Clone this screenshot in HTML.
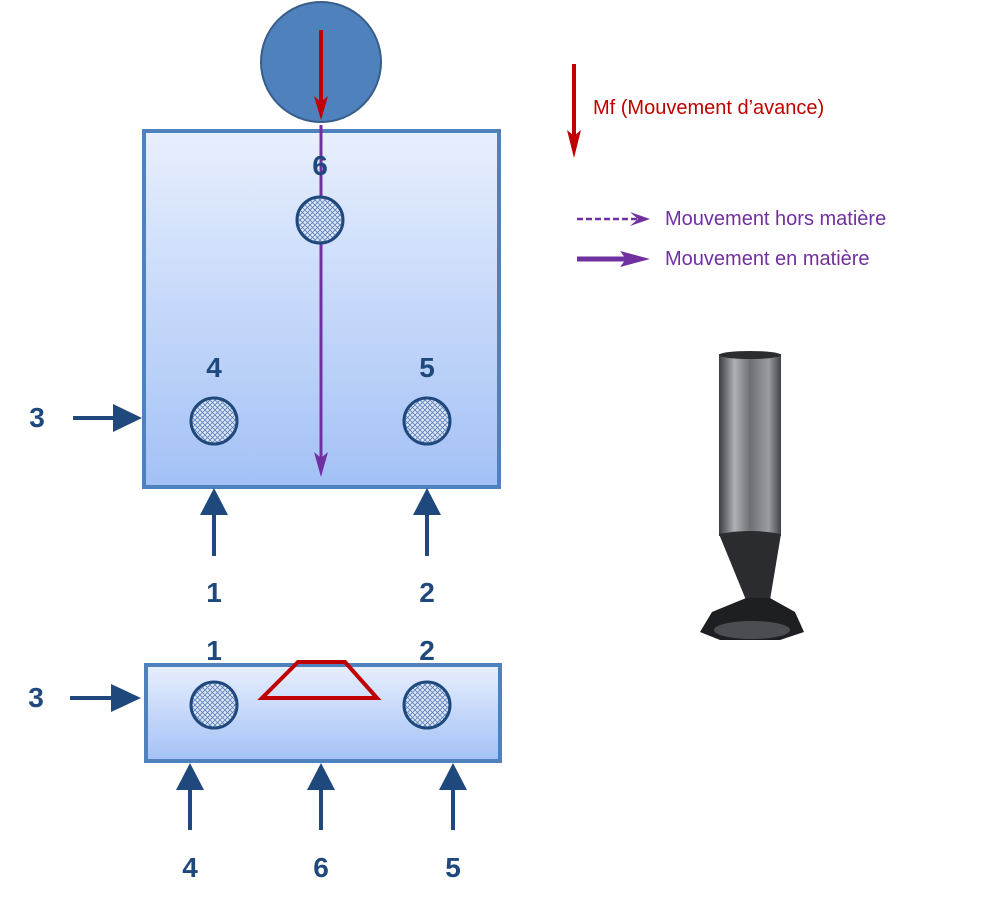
<!DOCTYPE html>
<html><head><meta charset="utf-8"><style>body{margin:0;background:#fff}svg{display:block;font-family:"Liberation Sans",sans-serif}</style></head>
<body>
<svg width="998" height="911" viewBox="0 0 998 911">
<defs>
<linearGradient id="bg" x1="0" y1="0" x2="0" y2="1"><stop offset="0" stop-color="#e8effd"/><stop offset="1" stop-color="#a3c1f6"/></linearGradient>
<linearGradient id="sh" x1="0" y1="0" x2="1" y2="0"><stop offset="0" stop-color="#3a3d42"/><stop offset=".25" stop-color="#aeb2b6"/><stop offset=".5" stop-color="#6d7176"/><stop offset=".8" stop-color="#9a9ea3"/><stop offset="1" stop-color="#3f4247"/></linearGradient>
<pattern id="hatch" width="5" height="5" patternUnits="userSpaceOnUse"><rect width="5" height="5" fill="#dfe8f7"/><path d="M0 0L5 5M5 0L0 5" stroke="#5a7fb5" stroke-width=".8"/></pattern>
<marker id="ab" markerWidth="10" markerHeight="10" refX="9" refY="5" orient="auto" markerUnits="userSpaceOnUse"><path d="M0 0L10 5L0 10L3 5z" fill="#1f497d"/></marker>
</defs>
<g fill="#1f497d" font-weight="bold" font-size="28" text-anchor="middle">
<rect x="144" y="131" width="355" height="356" fill="url(#bg)" stroke="#4f81bd" stroke-width="4"/>
<circle cx="321" cy="62" r="60" fill="#4f81bd" stroke="#385d8a" stroke-width="2"/>
<line x1="321" y1="125" x2="321" y2="462" stroke="#7030a0" stroke-width="3"/>
<path d="M314 452L321 477L328 452L321 458z" fill="#7030a0"/>
<line x1="321" y1="30" x2="321" y2="104" stroke="#c00000" stroke-width="4"/>
<path d="M314 96L321 120L328 96L321 102z" fill="#c00000"/>
<text x="320" y="175">6</text>
<circle cx="320" cy="220" r="23" fill="url(#hatch)" stroke="#1f497d" stroke-width="3"/>
<text x="214" y="377">4</text><text x="427" y="377">5</text>
<circle cx="214" cy="421" r="23" fill="url(#hatch)" stroke="#1f497d" stroke-width="3"/>
<circle cx="427" cy="421" r="23" fill="url(#hatch)" stroke="#1f497d" stroke-width="3"/>
<text x="37" y="427">3</text>
<line x1="73" y1="418" x2="115" y2="418" stroke="#1f497d" stroke-width="4"/><path d="M113 404L142 418L113 432z"/>
<line x1="214" y1="556" x2="214" y2="512" stroke="#1f497d" stroke-width="4"/><path d="M200 515L214 488L228 515z"/>
<line x1="427" y1="556" x2="427" y2="512" stroke="#1f497d" stroke-width="4"/><path d="M413 515L427 488L441 515z"/>
<text x="214" y="602">1</text><text x="427" y="602">2</text>
<rect x="146" y="665" width="354" height="96" fill="url(#bg)" stroke="#4f81bd" stroke-width="4"/>
<text x="214" y="660">1</text><text x="427" y="660">2</text>
<circle cx="214" cy="705" r="23" fill="url(#hatch)" stroke="#1f497d" stroke-width="3"/>
<circle cx="427" cy="705" r="23" fill="url(#hatch)" stroke="#1f497d" stroke-width="3"/>
<path d="M262 698L298 662L345 662L377 698z" fill="none" stroke="#c00000" stroke-width="4"/>
<text x="36" y="707">3</text>
<line x1="70" y1="698" x2="113" y2="698" stroke="#1f497d" stroke-width="4"/><path d="M111 684L141 698L111 712z"/>
<line x1="190" y1="830" x2="190" y2="788" stroke="#1f497d" stroke-width="4"/><path d="M176 790L190 763L204 790z"/>
<line x1="321" y1="830" x2="321" y2="788" stroke="#1f497d" stroke-width="4"/><path d="M307 790L321 763L335 790z"/>
<line x1="453" y1="830" x2="453" y2="788" stroke="#1f497d" stroke-width="4"/><path d="M439 790L453 763L467 790z"/>
<text x="190" y="877">4</text><text x="321" y="877">6</text><text x="453" y="877">5</text>
</g>
<g>
<line x1="574" y1="64" x2="574" y2="140" stroke="#c00000" stroke-width="4"/>
<path d="M567 130L574 158L581 130L574 136z" fill="#c00000"/>
<text x="593" y="114" font-size="20" fill="#c00000" font-family="Liberation Sans, sans-serif">Mf (Mouvement d’avance)</text>
<line x1="577" y1="219" x2="640" y2="219" stroke="#7030a0" stroke-width="2.5" stroke-dasharray="6 3"/>
<path d="M630 212L650 219L630 226L638 219z" fill="#7030a0"/>
<text x="665" y="225" font-size="20" fill="#7030a0">Mouvement hors matière</text>
<line x1="577" y1="259" x2="632" y2="259" stroke="#7030a0" stroke-width="5"/>
<path d="M620 251L650 259L620 267L626 259z" fill="#7030a0"/>
<text x="665" y="265" font-size="20" fill="#7030a0">Mouvement en matière</text>
</g>
<g>
<rect x="719" y="354" width="62" height="182" fill="url(#sh)"/>
<ellipse cx="750" cy="355" rx="31" ry="4" fill="#2b2d30"/>
<path d="M719 534Q750 528 781 534L770 600L746 600z" fill="#2a2c30"/>
<path d="M700 632L712 612L746 598L770 598L795 612L804 632L780 640L720 640z" fill="#1d1f22"/>
<ellipse cx="752" cy="630" rx="38" ry="9" fill="#4a4d52"/>
</g>
</svg>
</body></html>
